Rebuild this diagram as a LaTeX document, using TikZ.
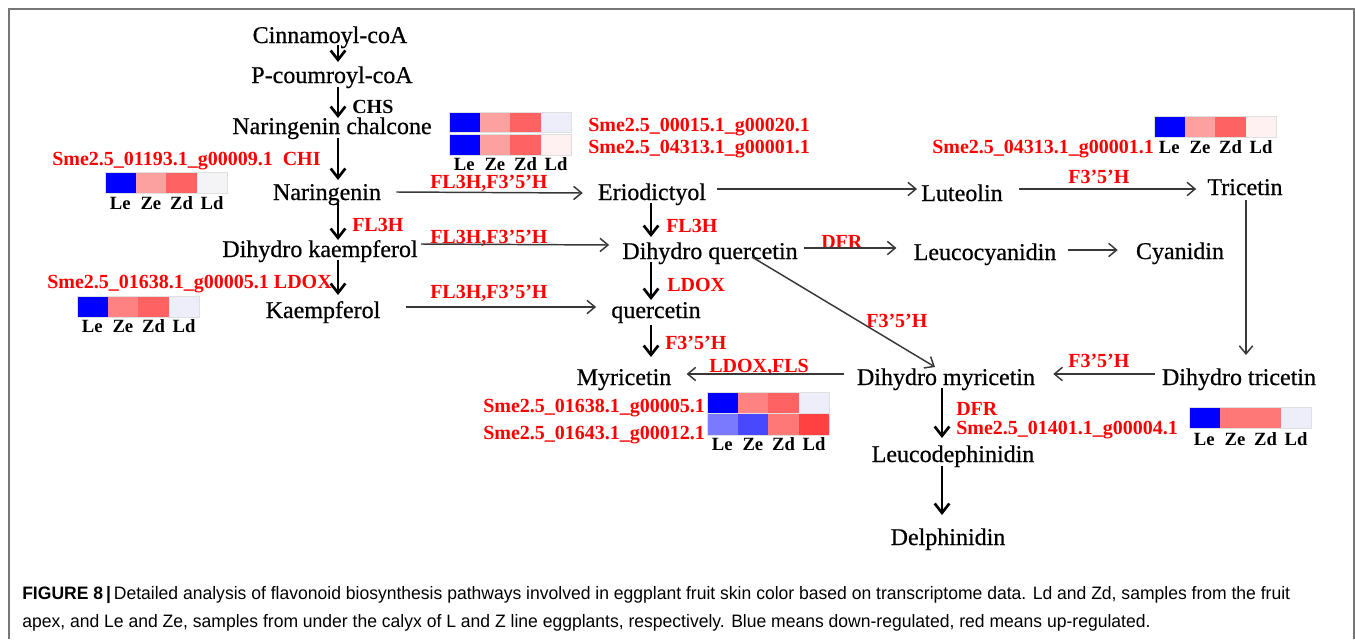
\documentclass[tikz,border=0pt]{standalone}
\usepackage{graphicx}
\usepackage{fontspec}
\setmainfont{Liberation Serif}
\newfontfamily\cpdfont[FakeBold=0.6]{Liberation Serif}
\newfontfamily\capfont{Liberation Sans}
\usetikzlibrary{arrows.meta,calc}
\definecolor{hB}{RGB}{0,0,255}
\definecolor{hPa}{RGB}{252,160,160}
\definecolor{hPb}{RGB}{255,130,130}
\definecolor{hPc}{RGB}{255,120,120}
\definecolor{hR}{RGB}{255,98,98}
\definecolor{hRR}{RGB}{255,65,65}
\definecolor{hLg}{RGB}{244,244,246}
\definecolor{hLb}{RGB}{238,238,250}
\definecolor{hLp}{RGB}{255,241,241}
\definecolor{hBa}{RGB}{122,122,255}
\definecolor{hBb}{RGB}{72,72,255}
\definecolor{framegray}{RGB}{118,118,118}
\newlength\capw
\newcommand\capone{\textbf{FIGURE 8}\,\textbf{|}\,Detailed analysis of flavonoid biosynthesis pathways involved in eggplant fruit skin color based on transcriptome data. Ld and Zd, samples from the fruit}
\newcommand\captwo{apex, and Le and Ze, samples from under the calyx of L and Z line eggplants, respectively. Blue means down-regulated, red means up-regulated.}
\newcommand\capfnt{\capfont\fontsize{13.5}{16}\selectfont}
% heat map row: x, top y, height, four colours
\newcommand\heatrow[7]{%
  \fill[#4] (#1,#2) rectangle ++(30.6,#3);
  \fill[#5] ({#1+30.6},#2) rectangle ++(30.6,#3);
  \fill[#6] ({#1+61.2},#2) rectangle ++(30.6,#3);
  \fill[#7] ({#1+91.8},#2) rectangle ++(30.6,#3);
  \draw[black!12, line width=0.5pt] (#1,#2) rectangle ++(122.4,#3);}
% heat map labels: x, baseline, name prefix
\newcommand\heatlab[3]{%
  \node[hl] (#3le) at ({#1+15.3},#2) {Le};
  \node[hl] (#3ze) at ({#1+45.9},#2) {Ze};
  \node[hl] (#3zd) at ({#1+76.5},#2) {Zd};
  \node[hl] (#3ld) at ({#1+107.1},#2) {Ld};}
\tikzset{
  cpd/.style={anchor=base, inner sep=0pt, font=\cpdfont\fontsize{18}{20}\selectfont},
  lab/.style={anchor=base west, inner sep=0pt, text=red, font=\bfseries\fontsize{15}{17}\selectfont},
  blab/.style={anchor=base west, inner sep=0pt, text=black, font=\bfseries\fontsize{15}{17}\selectfont},
  hl/.style={anchor=base, inner sep=0pt, font=\bfseries\fontsize{14}{15}\selectfont},
  thinarr/.style={draw=black!78, line width=1.1pt, -{Straight Barb[length=6pt,width=10pt]}},
  thickarr/.style={draw=black, line width=2pt, -{Straight Barb[length=7pt,width=11pt]}},
}
\begin{document}
\settowidth\capw{\capfnt\capone}%
\pgfmathsetmacro\capsx{951/\capw}%
\begin{tikzpicture}[x=0.75pt,y=-0.75pt]
\useasboundingbox (0,0) rectangle (1355,639);
\fill[white] (0,0) rectangle (1355,639);
\draw[framegray, line width=1.5pt] (9,639) -- (9,9) -- (1353.5,9) -- (1353.5,639);

% columns for vertical arrows
\coordinate (colA) at (338,0);
\coordinate (colB) at (651,0);
\coordinate (colC) at (942,0);
\coordinate (colD) at (1246,0);

% compounds
\node[cpd] (cinn) at (330,43) {Cinnamoyl-coA};
\node[cpd] (pcoum) at (332,83) {P-coumroyl-coA};
\node[cpd] (chal) at (332,134) {Naringenin chalcone};
\node[cpd] (nar) at (327,200) {Naringenin};
\node[cpd] (dhk) at (320,257) {Dihydro kaempferol};
\node[cpd] (kaem) at (323,318) {Kaempferol};
\node[cpd] (erio) at (652,200) {Eriodictyol};
\node[cpd] (lut) at (962,201) {Luteolin};
\node[cpd] (tric) at (1245,195) {Tricetin};
\node[cpd] (dhq) at (710,259) {Dihydro quercetin};
\node[cpd] (leucy) at (985,260) {Leucocyanidin};
\node[cpd] (cyan) at (1180,259) {Cyanidin};
\node[cpd] (quer) at (656,318) {quercetin};
\node[cpd] (myr) at (624,385) {Myricetin};
\node[cpd] (dhm) at (946,385) {Dihydro myricetin};
\node[cpd] (dht) at (1239,385) {Dihydro tricetin};
\node[cpd] (leud) at (953,462) {Leucodephinidin};
\node[cpd] (delph) at (948,545) {Delphinidin};

% enzyme / gene labels
\node[blab] (chs) at (352,113) {CHS};
\node[lab] (g1) at (52,165) {Sme2.5\_01193.1\_g00009.1\ \ CHI};
\node[lab] (g2) at (47,288) {Sme2.5\_01638.1\_g00005.1 LDOX};
\node[lab] (g3) at (588,131) {Sme2.5\_00015.1\_g00020.1};
\node[lab] (g4) at (588,153) {Sme2.5\_04313.1\_g00001.1};
\node[lab] (g5) at (932,153) {Sme2.5\_04313.1\_g00001.1};
\node[lab] (g6) at (483,412) {Sme2.5\_01638.1\_g00005.1};
\node[lab] (g7) at (483,439) {Sme2.5\_01643.1\_g00012.1};
\node[lab] (dfr2) at (956,415) {DFR};
\node[lab] (g8) at (956,434) {Sme2.5\_01401.1\_g00004.1};
\node[lab] (e1) at (352,231) {FL3H};
\node[lab] (e2) at (666,232) {FL3H};
\node[lab] (e3) at (667,291) {LDOX};
\node[lab] (e4) at (665,349) {F3’5’H};
\node[lab] (e5) at (430,188) {FL3H,F3’5’H};
\node[lab] (e6) at (430,243) {FL3H,F3’5’H};
\node[lab] (e7) at (430,298) {FL3H,F3’5’H};
\node[lab] (e8) at (821,248) {DFR};
\node[lab] (e9) at (1068,183) {F3’5’H};
\node[lab] (e10) at (709,372) {LDOX,FLS};
\node[lab] (e11) at (866,327) {F3’5’H};
\node[lab] (e12) at (1068,367) {F3’5’H};

% heat maps
\heatrow{105}{172}{21}{hB}{hPa}{hR}{hLg}
\heatlab{105}{209}{hA}
\heatrow{449}{112}{20}{hB}{hPa}{hR}{hLb}
\heatrow{449}{134}{21}{hB}{hPa}{hR}{hLp}
\heatlab{449}{170}{hBm}
\heatrow{1154}{116}{21}{hB}{hPa}{hR}{hLp}
\heatlab{1154}{153}{hC}
\heatrow{77}{296}{21}{hB}{hPb}{hR}{hLb}
\heatlab{77}{332}{hD}
\heatrow{707}{392}{21}{hB}{hPb}{hR}{hLb}
\heatrow{707}{413}{22}{hBa}{hBb}{hPc}{hRR}
\heatlab{707}{450}{hE}
\heatrow{1189}{407}{21}{hB}{hPc}{hPc}{hLb}
\heatlab{1189}{445}{hF}

% vertical (thick) arrows
\draw[thickarr] ($(cinn.base -| colA)+(0,2)$) -- ($(pcoum.base -| colA)+(0,-21)$);
\draw[thickarr] ($(pcoum.base -| colA)+(0,4)$) -- ($(chal.base -| colA)+(0,-16)$);
\draw[thickarr] ($(chal.base -| colA)+(0,4)$) -- ($(nar.base -| colA)+(0,-20)$);
\draw[thickarr] ($(nar.base -| colA)+(0,3)$) -- ($(dhk.base -| colA)+(0,-17)$);
\draw[thickarr] ($(dhk.base -| colA)+(0,3)$) -- ($(kaem.base -| colA)+(0,-23)$);
\draw[thickarr] ($(erio.base -| colB)+(0,3)$) -- ($(dhq.base -| colB)+(0,-22)$);
\draw[thickarr] ($(dhq.base -| colB)+(0,3)$) -- ($(quer.base -| colB)+(0,-18)$);
\draw[thickarr] ($(quer.base -| colB)+(0,7)$) -- ($(myr.base -| colB)+(0,-28)$);
\draw[thickarr] ($(dhm.base -| colC)+(0,3)$) -- ($(leud.base -| colC)+(0,-24)$);
\draw[thickarr] ($(leud.base -| colC)+(0,4)$) -- ($(delph.base -| colC)+(0,-30)$);
\draw[thinarr] ($(tric.base -| colD)+(0,5)$) -- ($(dht.base -| colD)+(0,-30)$);

% horizontal (thin) arrows
\draw[thinarr] ($(nar.base east)+(15,-8)$) -- ($(erio.base west)+(-15,-7)$);
\draw[thinarr] ($(erio.base east)+(11,-11)$) -- ($(lut.base west)+(-4,-12)$);
\draw[thinarr] ($(lut.base east)+(16,-12)$) -- ($(tric.base west)+(-11,-6)$);
\draw[thinarr] ($(dhk.base east)+(3,-13)$) -- ($(dhq.base west)+(-13,-14)$);
\draw[thinarr] ($(dhq.base east)+(6,-11)$) -- ($(leucy.base west)+(-17,-12)$);
\draw[thinarr] ($(leucy.base east)+(11,-10)$) -- ($(cyan.base west)+(-18,-9)$);
\draw[thinarr] ($(kaem.base east)+(25,-11)$) -- ($(quer.base west)+(-15,-11)$);
\draw[thinarr] ($(dhm.base west)+(-13,-11)$) -- ($(myr.base east)+(15,-11)$);
\draw[thinarr] ($(dht.base west)+(-7,-11)$) -- ($(dhm.base east)+(18,-11)$);
\draw[thinarr] ($(dhq.base)+(42,-2)$) -- ($(dhm.base)+(-11,-18)$);

% caption
\node[anchor=base west, inner sep=0pt] (cap1) at (22,599) {\scalebox{\capsx}[1]{\capfnt\capone}};
\node[anchor=base west, inner sep=0pt] (cap2) at (22,627) {\scalebox{\capsx}[1]{\capfnt\captwo}};
\end{tikzpicture}
\end{document}
